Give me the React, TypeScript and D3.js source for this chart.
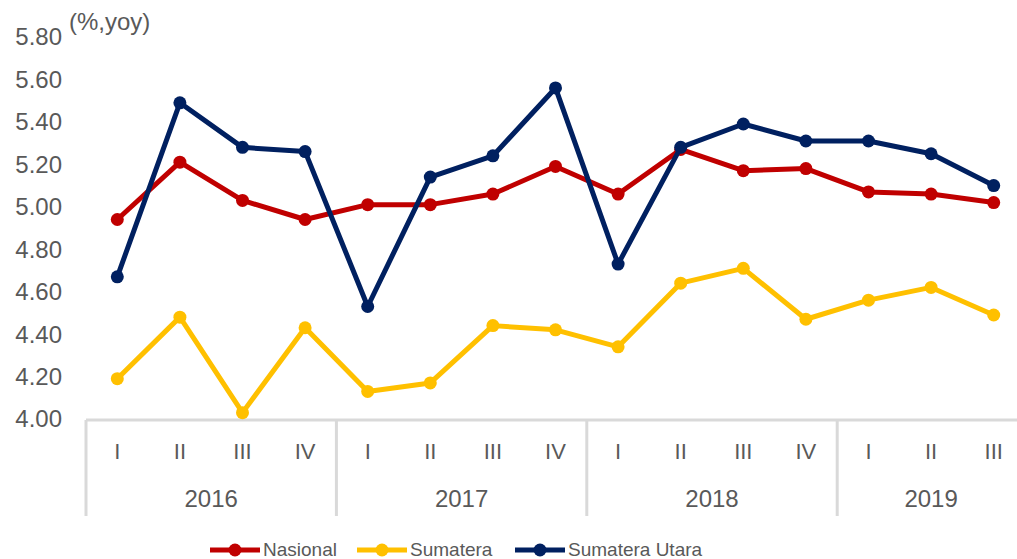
import React from "react";
import * as d3 from "d3";

const quarters = ["I", "II", "III", "IV", "I", "II", "III", "IV", "I", "II", "III", "IV", "I", "II", "III"];
const years = ["2016", "2017", "2018", "2019"];
const yearSpans = [4, 4, 4, 3];
const yTicks = [4.0, 4.2, 4.4, 4.6, 4.8, 5.0, 5.2, 5.4, 5.6, 5.8];

const nasional = [4.94, 5.21, 5.03, 4.94, 5.01, 5.01, 5.06, 5.19, 5.06, 5.27, 5.17, 5.18, 5.07, 5.06, 5.02];
const sumatera = [4.19, 4.48, 4.03, 4.43, 4.13, 4.17, 4.44, 4.42, 4.34, 4.64, 4.71, 4.47, 4.56, 4.62, 4.49];
const sumateraUtara = [4.67, 5.49, 5.28, 5.26, 4.53, 5.14, 5.24, 5.56, 4.73, 5.28, 5.39, 5.31, 5.31, 5.25, 5.10];

const seriesNames = ["Nasional", "Sumatera", "Sumatera Utara"];
const seriesColors = ["#C00000", "#FFC000", "#002060"];

const W = 1017;
const H = 559;
const FONT = "'Liberation Sans', Arial, sans-serif";
const TEXT = "#595959";
const AXIS = "#d9d9d9";

export default function App() {
  const x = d3.scaleBand<number>().domain(d3.range(quarters.length)).range([86, 1025]);
  const y = d3.scaleLinear().domain([4.0, 5.8]).range([419, 37]);
  const cx = (i: number) => (x(i) as number) + x.bandwidth() / 2;
  const line = d3
    .line<number>()
    .x((_, i) => cx(i))
    .y((d) => y(d));

  const allSeries = [nasional, sumatera, sumateraUtara];

  const bounds: number[] = [];
  let acc = 0;
  bounds.push(x(0) as number);
  yearSpans.forEach((s) => {
    acc += s;
    bounds.push(acc < quarters.length ? (x(acc) as number) : x.range()[1]);
  });

  const legendX = [210, 357, 515];

  return (
    <svg width={W} height={H} style={{ position: "absolute", left: 0, top: 0, background: "#fff" }} fontFamily={FONT}>
      {yTicks.map((t) => (
        <text key={t} x={62} y={y(t)} dy="0.35em" textAnchor="end" fontSize={24} fill={TEXT}>
          {t.toFixed(2)}
        </text>
      ))}
      <text x={69} y={22} dy="0.35em" fontSize={24} fill={TEXT}>
        (%,yoy)
      </text>

      <line x1={86} x2={W} y1={420} y2={420} stroke={AXIS} strokeWidth={3} />
      {bounds.map((b, i) =>
        b < W ? <line key={i} x1={b} x2={b} y1={420} y2={516} stroke={AXIS} strokeWidth={3} /> : null
      )}

      {quarters.map((q, i) => (
        <text key={i} x={cx(i)} y={451} dy="0.35em" textAnchor="middle" fontSize={22} fill={TEXT}>
          {q}
        </text>
      ))}
      {years.map((yr, i) => {
        const start = bounds[i];
        const end = i === years.length - 1 ? cx(quarters.length - 1) + x.bandwidth() / 2 : bounds[i + 1];
        return (
          <text key={yr} x={(start + end) / 2} y={499} dy="0.35em" textAnchor="middle" fontSize={24} fill={TEXT}>
            {yr}
          </text>
        );
      })}

      {allSeries.map((s, si) => (
        <g key={si}>
          <path d={line(s) as string} fill="none" stroke={seriesColors[si]} strokeWidth={5} strokeLinejoin="round" />
          {s.map((v, i) => (
            <circle key={i} cx={cx(i)} cy={y(v)} r={6.5} fill={seriesColors[si]} />
          ))}
        </g>
      ))}

      {seriesNames.map((n, i) => (
        <g key={n}>
          <line x1={legendX[i]} x2={legendX[i] + 50} y1={550} y2={550} stroke={seriesColors[i]} strokeWidth={5} />
          <circle cx={legendX[i] + 25} cy={550} r={6.5} fill={seriesColors[i]} />
          <text x={legendX[i] + 53} y={549} dy="0.35em" fontSize={19} fill={TEXT}>
            {n}
          </text>
        </g>
      ))}
    </svg>
  );
}
